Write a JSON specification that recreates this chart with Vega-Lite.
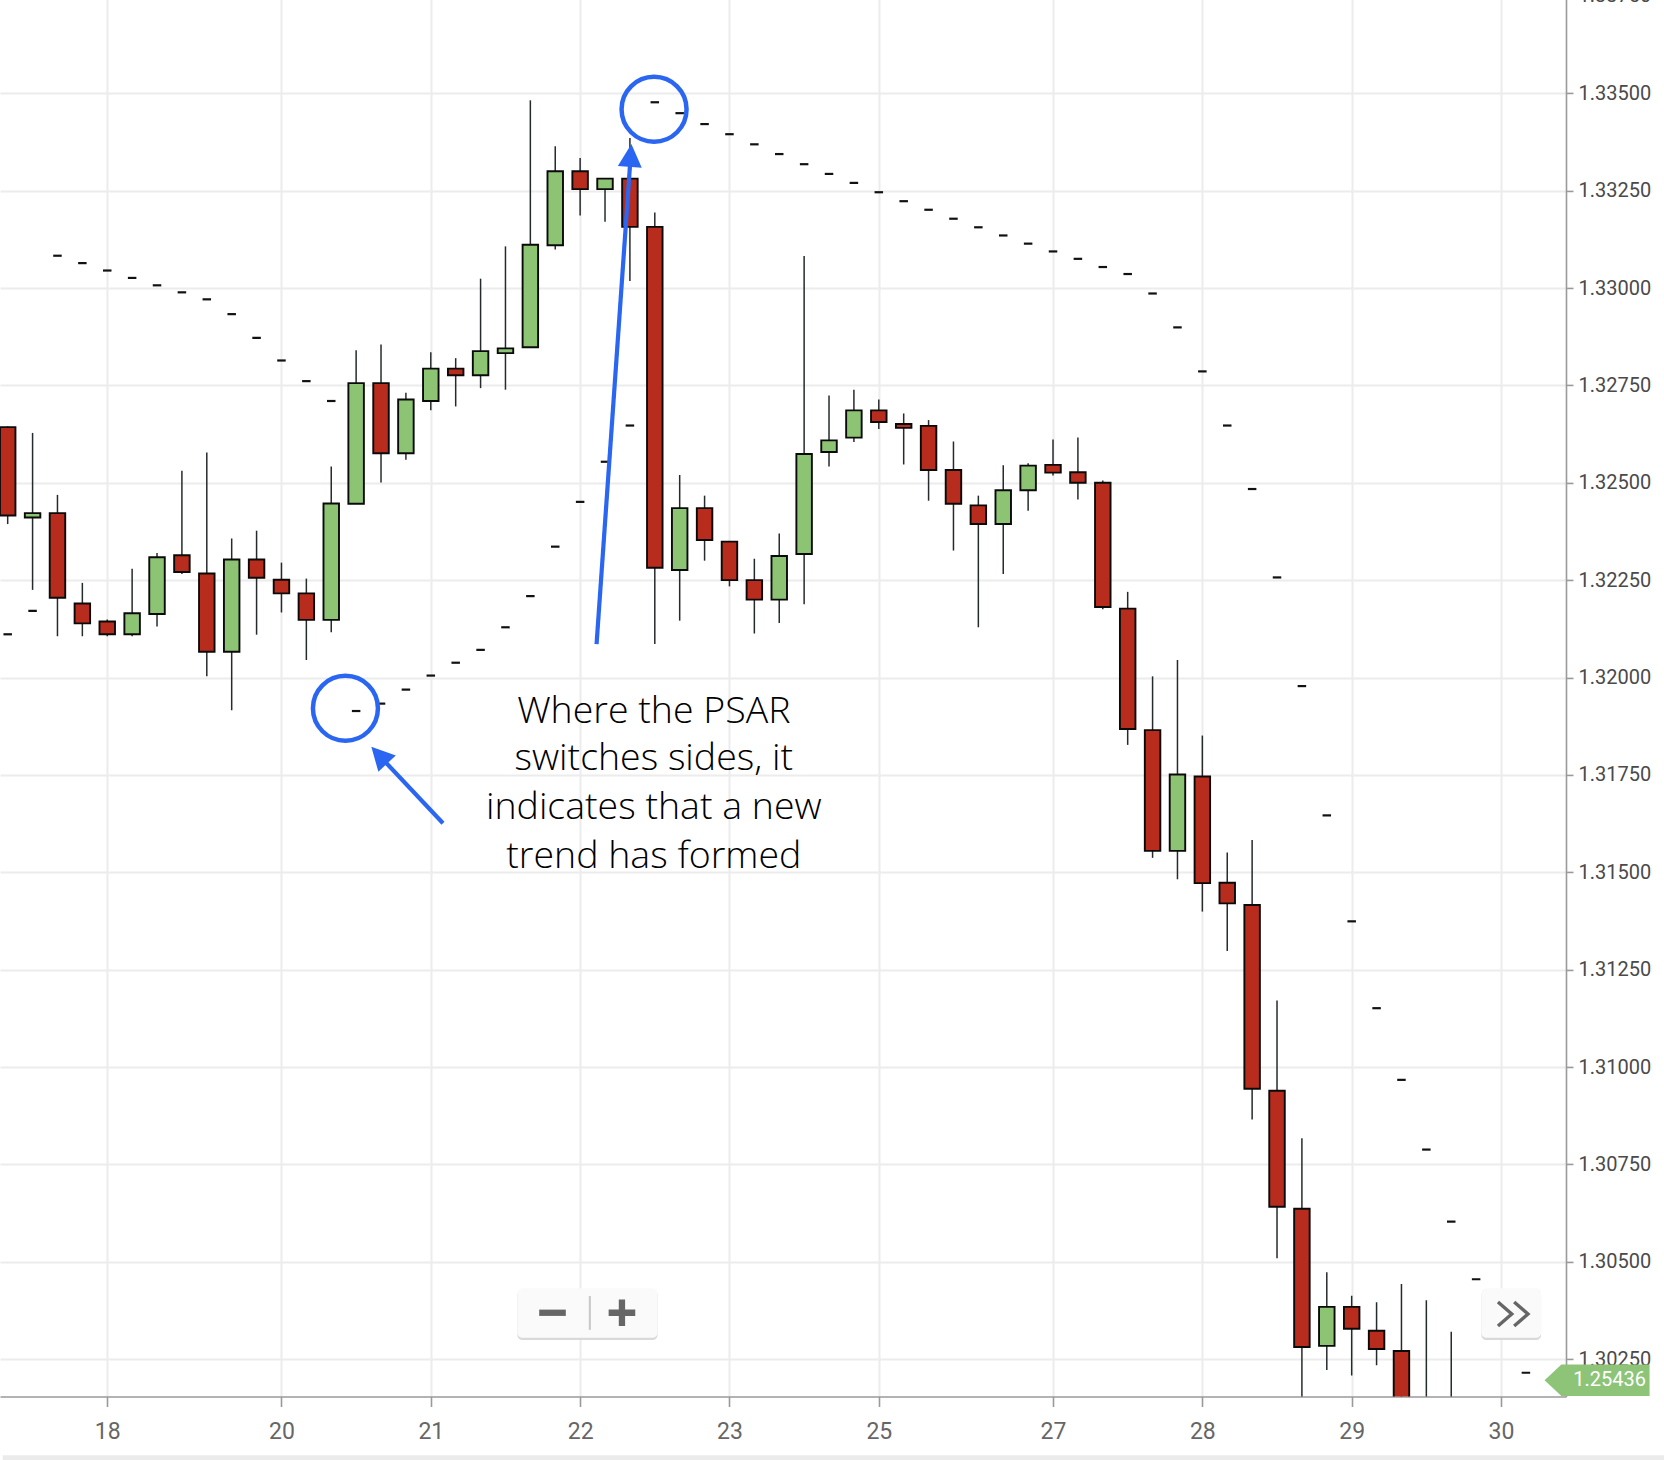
{
  "$schema": "https://vega.github.io/schema/vega-lite/v6.json",
  "width": 1566,
  "height": 1400.56,
  "autosize": "none",
  "padding": {"left": 0, "top": -4.06, "right": 98, "bottom": 63.5},
  "background": "white",
  "datasets": {
    "candles": [
      {"i": 0, "o": 1.32643, "h": 1.32645, "l": 1.32394, "c": 1.32416},
      {"i": 1, "o": 1.32411, "h": 1.32628, "l": 1.32225, "c": 1.32422},
      {"i": 2, "o": 1.32422, "h": 1.32469, "l": 1.32106, "c": 1.32205},
      {"i": 3, "o": 1.3219, "h": 1.32243, "l": 1.32106, "c": 1.32139},
      {"i": 4, "o": 1.32144, "h": 1.32149, "l": 1.32106, "c": 1.32111},
      {"i": 5, "o": 1.32111, "h": 1.32279, "l": 1.32106, "c": 1.32165},
      {"i": 6, "o": 1.32163, "h": 1.3232, "l": 1.32131, "c": 1.32309},
      {"i": 7, "o": 1.32314, "h": 1.32531, "l": 1.32266, "c": 1.32271},
      {"i": 8, "o": 1.32267, "h": 1.32578, "l": 1.32003, "c": 1.32066},
      {"i": 9, "o": 1.32066, "h": 1.32357, "l": 1.31916, "c": 1.32303},
      {"i": 10, "o": 1.32303, "h": 1.32377, "l": 1.3211, "c": 1.32256},
      {"i": 11, "o": 1.32251, "h": 1.32295, "l": 1.32167, "c": 1.32216},
      {"i": 12, "o": 1.32216, "h": 1.32254, "l": 1.32045, "c": 1.32148},
      {"i": 13, "o": 1.32148, "h": 1.32542, "l": 1.32116, "c": 1.32447},
      {"i": 14, "o": 1.32446, "h": 1.3284, "l": 1.32446, "c": 1.32756},
      {"i": 15, "o": 1.32756, "h": 1.32855, "l": 1.32501, "c": 1.32576},
      {"i": 16, "o": 1.32576, "h": 1.32731, "l": 1.32559, "c": 1.32714},
      {"i": 17, "o": 1.3271, "h": 1.32835, "l": 1.32686, "c": 1.32793},
      {"i": 18, "o": 1.32793, "h": 1.3282, "l": 1.32696, "c": 1.32776},
      {"i": 19, "o": 1.32776, "h": 1.33024, "l": 1.32743, "c": 1.32838},
      {"i": 20, "o": 1.32833, "h": 1.33107, "l": 1.32739, "c": 1.32845},
      {"i": 21, "o": 1.32848, "h": 1.33482, "l": 1.32848, "c": 1.33111},
      {"i": 22, "o": 1.3311, "h": 1.33364, "l": 1.33099, "c": 1.333},
      {"i": 23, "o": 1.333, "h": 1.33334, "l": 1.33186, "c": 1.33254},
      {"i": 24, "o": 1.33254, "h": 1.33281, "l": 1.3317, "c": 1.33281},
      {"i": 25, "o": 1.33281, "h": 1.33385, "l": 1.33018, "c": 1.33157},
      {"i": 26, "o": 1.33157, "h": 1.33194, "l": 1.32086, "c": 1.32282},
      {"i": 27, "o": 1.32276, "h": 1.3252, "l": 1.32146, "c": 1.32435},
      {"i": 28, "o": 1.32435, "h": 1.32467, "l": 1.323, "c": 1.32353},
      {"i": 29, "o": 1.32349, "h": 1.3235, "l": 1.32234, "c": 1.3225},
      {"i": 30, "o": 1.3225, "h": 1.32305, "l": 1.32113, "c": 1.322},
      {"i": 31, "o": 1.322, "h": 1.3237, "l": 1.3214, "c": 1.32312},
      {"i": 32, "o": 1.32317, "h": 1.33082, "l": 1.32188, "c": 1.32574},
      {"i": 33, "o": 1.32579, "h": 1.32724, "l": 1.32542, "c": 1.32609},
      {"i": 34, "o": 1.32616, "h": 1.32739, "l": 1.32605, "c": 1.32686},
      {"i": 35, "o": 1.32686, "h": 1.32714, "l": 1.32638, "c": 1.32656},
      {"i": 36, "o": 1.32651, "h": 1.32678, "l": 1.32547, "c": 1.32641},
      {"i": 37, "o": 1.32646, "h": 1.32661, "l": 1.32454, "c": 1.32533},
      {"i": 38, "o": 1.32533, "h": 1.32606, "l": 1.32326, "c": 1.32446},
      {"i": 39, "o": 1.32442, "h": 1.32467, "l": 1.32129, "c": 1.32394},
      {"i": 40, "o": 1.32394, "h": 1.32545, "l": 1.32266, "c": 1.32481},
      {"i": 41, "o": 1.32481, "h": 1.3255, "l": 1.32428, "c": 1.32544},
      {"i": 42, "o": 1.32546, "h": 1.32611, "l": 1.32519, "c": 1.32526},
      {"i": 43, "o": 1.32527, "h": 1.32616, "l": 1.32457, "c": 1.325},
      {"i": 44, "o": 1.325, "h": 1.32506, "l": 1.32175, "c": 1.32181},
      {"i": 45, "o": 1.32177, "h": 1.3222, "l": 1.31827, "c": 1.31868},
      {"i": 46, "o": 1.31865, "h": 1.32003, "l": 1.31537, "c": 1.31555},
      {"i": 47, "o": 1.31555, "h": 1.32045, "l": 1.31482, "c": 1.31751},
      {"i": 48, "o": 1.31746, "h": 1.31851, "l": 1.31399, "c": 1.31472},
      {"i": 49, "o": 1.31473, "h": 1.31551, "l": 1.31298, "c": 1.3142},
      {"i": 50, "o": 1.31416, "h": 1.31583, "l": 1.30865, "c": 1.30944},
      {"i": 51, "o": 1.30939, "h": 1.31171, "l": 1.30509, "c": 1.30641},
      {"i": 52, "o": 1.30636, "h": 1.30817, "l": 1.3012, "c": 1.30281},
      {"i": 53, "o": 1.30284, "h": 1.30473, "l": 1.30222, "c": 1.30384},
      {"i": 54, "o": 1.30384, "h": 1.30413, "l": 1.30208, "c": 1.30328},
      {"i": 55, "o": 1.30323, "h": 1.30396, "l": 1.30234, "c": 1.30276},
      {"i": 56, "o": 1.30271, "h": 1.30443, "l": 1.3005, "c": 1.301},
      {"i": 57, "o": 1.301, "h": 1.30401, "l": 1.2998, "c": 1.3003},
      {"i": 58, "o": 1.3005, "h": 1.3032, "l": 1.2995, "c": 1.3},
      {"i": 59, "o": 1.2999, "h": 1.3012, "l": 1.2992, "c": 1.2996}
    ],
    "psar": [
      {"i": 0, "sar": 1.32111}, {"i": 1, "sar": 1.32171}, {"i": 2, "sar": 1.33083},
      {"i": 3, "sar": 1.33064}, {"i": 4, "sar": 1.33045}, {"i": 5, "sar": 1.33026},
      {"i": 6, "sar": 1.33007}, {"i": 7, "sar": 1.32989}, {"i": 8, "sar": 1.32971},
      {"i": 9, "sar": 1.32933}, {"i": 10, "sar": 1.32872}, {"i": 11, "sar": 1.32814},
      {"i": 12, "sar": 1.32761}, {"i": 13, "sar": 1.3271}, {"i": 14, "sar": 1.31914},
      {"i": 15, "sar": 1.31933}, {"i": 16, "sar": 1.31969}, {"i": 17, "sar": 1.32005},
      {"i": 18, "sar": 1.32038}, {"i": 19, "sar": 1.32071}, {"i": 20, "sar": 1.32129},
      {"i": 21, "sar": 1.32209}, {"i": 22, "sar": 1.32336}, {"i": 23, "sar": 1.32451},
      {"i": 24, "sar": 1.32554}, {"i": 25, "sar": 1.32647}, {"i": 26, "sar": 1.33477},
      {"i": 27, "sar": 1.33449}, {"i": 28, "sar": 1.33421}, {"i": 29, "sar": 1.33395},
      {"i": 30, "sar": 1.33369}, {"i": 31, "sar": 1.33344}, {"i": 32, "sar": 1.33318},
      {"i": 33, "sar": 1.33293}, {"i": 34, "sar": 1.3327}, {"i": 35, "sar": 1.33246},
      {"i": 36, "sar": 1.33223}, {"i": 37, "sar": 1.33201}, {"i": 38, "sar": 1.33178},
      {"i": 39, "sar": 1.33156}, {"i": 40, "sar": 1.33135}, {"i": 41, "sar": 1.33114},
      {"i": 42, "sar": 1.33094}, {"i": 43, "sar": 1.33075}, {"i": 44, "sar": 1.33054},
      {"i": 45, "sar": 1.33036}, {"i": 46, "sar": 1.32986}, {"i": 47, "sar": 1.32899},
      {"i": 48, "sar": 1.32786}, {"i": 49, "sar": 1.32647}, {"i": 50, "sar": 1.32484},
      {"i": 51, "sar": 1.32257}, {"i": 52, "sar": 1.31978}, {"i": 53, "sar": 1.31646},
      {"i": 54, "sar": 1.31374}, {"i": 55, "sar": 1.31151}, {"i": 56, "sar": 1.30967},
      {"i": 57, "sar": 1.30788}, {"i": 58, "sar": 1.30603}, {"i": 59, "sar": 1.30455},
      {"i": 61, "sar": 1.30215}
    ]
  },
  "layer": [
    {
      "data": {"values": [{"i": -0.2, "i2": 66.6, "p": 1.30003, "p2": 1.2998}]},
      "mark": {"type": "rect", "color": "#ebebeb", "clip": false},
      "encoding": {
        "x": {"field": "i", "type": "quantitative", "title": null,
          "scale": {"domain": [-0.108, 62.41], "nice": false, "zero": false},
          "axis": {
            "orient": "bottom",
            "values": [4, 11, 17, 23, 29, 35, 42, 48, 54, 60],
            "labelExpr": "datum.value == 4 ? '18' : datum.value == 11 ? '20' : datum.value == 17 ? '21' : datum.value == 23 ? '22' : datum.value == 29 ? '23' : datum.value == 35 ? '25' : datum.value == 42 ? '27' : datum.value == 48 ? '28' : datum.value == 54 ? '29' : '30'",
            "grid": true, "gridColor": "#ececec", "gridWidth": 2,
            "domainColor": "#9a9a9a", "domainWidth": 1.6,
            "tickColor": "#9a9a9a", "tickWidth": 1.6, "tickSize": 10,
            "labelPadding": 14, "labelFont": "Roboto", "labelFontSize": 23,
            "labelColor": "#666666", "labelFlush": false, "labelOverlap": false
          }},
        "x2": {"field": "i2"},
        "y": {"field": "p", "type": "quantitative", "title": null,
          "scale": {"domain": [1.30154, 1.3375], "nice": false, "zero": false},
          "axis": {
            "orient": "right",
            "values": [1.3025, 1.305, 1.3075, 1.31, 1.3125, 1.315, 1.3175, 1.32, 1.3225, 1.325, 1.3275, 1.33, 1.3325, 1.335, 1.3375],
            "format": ".5f",
            "grid": true, "gridColor": "#ececec", "gridWidth": 2,
            "domainColor": "#9a9a9a", "domainWidth": 1.6,
            "tickColor": "#9a9a9a", "tickWidth": 1.6, "tickSize": 7,
            "labelPadding": 5, "labelFont": "Roboto", "labelFontSize": 20,
            "labelColor": "#4a4a4a", "labelFlush": false, "labelOverlap": false
          }},
        "y2": {"field": "p2"}
      }
    },
    {
      "data": {"name": "candles"},
      "mark": {"type": "rule", "color": "#252b2d", "strokeWidth": 1.5, "clip": true},
      "encoding": {
        "x": {"field": "i", "type": "quantitative", "title": null},
        "y": {"field": "l", "type": "quantitative", "title": null},
        "y2": {"field": "h"}
      }
    },
    {
      "data": {"name": "candles"},
      "mark": {"type": "bar", "width": 15.5, "stroke": "#0a0a0a", "strokeWidth": 1.9, "clip": true},
      "encoding": {
        "x": {"field": "i", "type": "quantitative", "title": null},
        "y": {"field": "o", "type": "quantitative", "title": null},
        "y2": {"field": "c"},
        "color": {
          "condition": {"test": "datum.c > datum.o", "value": "#8dc474"},
          "value": "#b72c1d"
        }
      }
    },
    {
      "data": {"name": "psar"},
      "mark": {"type": "tick", "orient": "horizontal", "size": 8.5, "thickness": 2.2, "color": "#111111", "opacity": 1, "clip": true},
      "encoding": {
        "x": {"field": "i", "type": "quantitative", "title": null},
        "y": {"field": "sar", "type": "quantitative", "title": null}
      }
    },
    {
      "data": {"values": [{"i": 13.57, "p": 1.31921}, {"i": 25.97, "p": 1.33459}]},
      "mark": {"type": "point", "shape": "circle", "filled": false, "size": 4225, "stroke": "#2a66f2", "strokeWidth": 4.5, "opacity": 1},
      "encoding": {
        "x": {"field": "i", "type": "quantitative", "title": null},
        "y": {"field": "p", "type": "quantitative", "title": null}
      }
    },
    {
      "data": {"values": [
        {"i": 23.66, "p": 1.32086, "i2": 25.03, "p2": 1.33339},
        {"i": 17.49, "p": 1.31626, "i2": 14.88, "p2": 1.31803}
      ]},
      "mark": {"type": "rule", "color": "#2a66f2", "strokeWidth": 4.2, "strokeCap": "butt"},
      "encoding": {
        "x": {"field": "i", "type": "quantitative", "title": null},
        "y": {"field": "p", "type": "quantitative", "title": null},
        "x2": {"field": "i2"},
        "y2": {"field": "p2"}
      }
    },
    {
      "data": {"values": [{"i": 25.06, "p": 1.3337}]},
      "mark": {"type": "point", "shape": "M0,0L0.52,1L-0.52,1Z", "size": 2116, "angle": 4, "filled": true, "color": "#2a66f2", "opacity": 1},
      "encoding": {
        "x": {"field": "i", "type": "quantitative", "title": null},
        "y": {"field": "p", "type": "quantitative", "title": null}
      }
    },
    {
      "data": {"values": [{"i": 14.61, "p": 1.31822}]},
      "mark": {"type": "point", "shape": "M0,0L0.52,1L-0.52,1Z", "size": 2116, "angle": -43.3, "filled": true, "color": "#2a66f2", "opacity": 1},
      "encoding": {
        "x": {"field": "i", "type": "quantitative", "title": null},
        "y": {"field": "p", "type": "quantitative", "title": null}
      }
    },
    {
      "data": {"values": [
        {"i": 25.96, "p": 1.31884, "t": "Where the PSAR"},
        {"i": 25.96, "p": 1.31762, "t": "switches sides, it"},
        {"i": 25.96, "p": 1.31637, "t": "indicates that a new"},
        {"i": 25.96, "p": 1.31512, "t": "trend has formed"}
      ]},
      "mark": {"type": "text", "font": "Open Sans", "fontSize": 37.5, "fontWeight": 300, "color": "#000000", "align": "center", "baseline": "alphabetic"},
      "encoding": {
        "x": {"field": "i", "type": "quantitative", "title": null},
        "y": {"field": "p", "type": "quantitative", "title": null},
        "text": {"field": "t"}
      }
    },
    {
      "data": {"values": [
        {"i": 20.48, "i2": 26.11, "p": 1.30427, "p2": 1.30299},
        {"i": 59.21, "i2": 61.61, "p": 1.30427, "p2": 1.30299}
      ]},
      "mark": {"type": "rect", "color": "#d9d9d9", "cornerRadius": 5},
      "encoding": {
        "x": {"field": "i", "type": "quantitative", "title": null},
        "x2": {"field": "i2"},
        "y": {"field": "p", "type": "quantitative", "title": null},
        "y2": {"field": "p2"}
      }
    },
    {
      "data": {"values": [
        {"i": 20.48, "i2": 26.11, "p": 1.30432, "p2": 1.30305},
        {"i": 59.21, "i2": 61.61, "p": 1.30432, "p2": 1.30305}
      ]},
      "mark": {"type": "rect", "color": "#fafafa", "cornerRadius": 5},
      "encoding": {
        "x": {"field": "i", "type": "quantitative", "title": null},
        "x2": {"field": "i2"},
        "y": {"field": "p", "type": "quantitative", "title": null},
        "y2": {"field": "p2"}
      }
    },
    {
      "data": {"values": [{"i": 23.39, "p": 1.30412, "p2": 1.30325}]},
      "mark": {"type": "rule", "color": "#c8c8c8", "strokeWidth": 2},
      "encoding": {
        "x": {"field": "i", "type": "quantitative", "title": null},
        "y": {"field": "p", "type": "quantitative", "title": null},
        "y2": {"field": "p2"}
      }
    },
    {
      "data": {"values": [{"i": 21.89, "p": 1.30369}]},
      "mark": {"type": "point", "shape": "M-1,0L1,0", "size": 708, "filled": false, "stroke": "#666666", "strokeWidth": 6.3, "strokeCap": "butt", "opacity": 1},
      "encoding": {
        "x": {"field": "i", "type": "quantitative", "title": null},
        "y": {"field": "p", "type": "quantitative", "title": null}
      }
    },
    {
      "data": {"values": [{"i": 24.68, "p": 1.30369}]},
      "mark": {"type": "point", "shape": "M-1,0L1,0M0,-1L0,1", "size": 708, "filled": false, "stroke": "#666666", "strokeWidth": 6.3, "strokeCap": "butt", "opacity": 1},
      "encoding": {
        "x": {"field": "i", "type": "quantitative", "title": null},
        "y": {"field": "p", "type": "quantitative", "title": null}
      }
    },
    {
      "data": {"values": [{"i": 60.48, "p": 1.30366}]},
      "mark": {"type": "point", "shape": "M-1.25,-1L-0.1,0L-1.25,1M0.1,-1L1.25,0L0.1,1", "size": 576, "filled": false, "stroke": "#666666", "strokeWidth": 3.4, "opacity": 1},
      "encoding": {
        "x": {"field": "i", "type": "quantitative", "title": null},
        "y": {"field": "p", "type": "quantitative", "title": null}
      }
    },
    {
      "data": {"values": [{"i": 63.86, "p": 1.30196}]},
      "mark": {"type": "point", "shape": "M-1,0L-0.68,-0.3L1,-0.3L1,0.3L-0.68,0.3Z", "size": 11025, "filled": true, "color": "#8dc477", "opacity": 1, "clip": false},
      "encoding": {
        "x": {"field": "i", "type": "quantitative", "title": null},
        "y": {"field": "p", "type": "quantitative", "title": null}
      }
    },
    {
      "data": {"values": [{"i": 62.9, "p": 1.30196, "t": "1.25436"}]},
      "mark": {"type": "text", "font": "Roboto", "fontSize": 20, "color": "white", "align": "left", "baseline": "middle", "clip": false},
      "encoding": {
        "x": {"field": "i", "type": "quantitative", "title": null},
        "y": {"field": "p", "type": "quantitative", "title": null},
        "text": {"field": "t"}
      }
    }
  ],
  "config": {"view": {"stroke": null}}
}
